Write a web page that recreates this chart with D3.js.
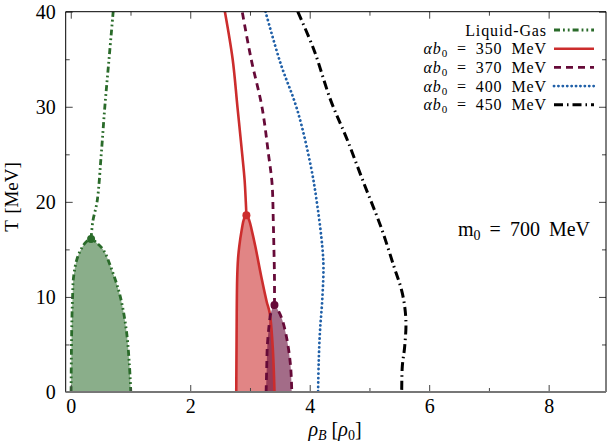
<!DOCTYPE html>
<html>
<head>
<meta charset="utf-8">
<script src="https://cdn.jsdelivr.net/npm/d3@7"></script>
<style>
  body { margin: 0; background: #fff; }
  svg text { font-family: "Liberation Serif", "DejaVu Serif", serif; fill: #000; }
</style>
</head>
<body>
<div id="chart"></div>
<script>
// Phase diagram: T vs rho_B, coexistence regions + transition lines

// [rho_B, T]
const gasLeft = [[0.005, 0], [0.01, 4], [0.02, 8], [0.03, 10], [0.045, 12], [0.1, 13.9], [0.18, 15.1], [0.26, 15.8], [0.34, 16.1]];
const gasRight = [[0.34, 16.1], [0.45, 15.6], [0.55, 14.9], [0.69, 12.8], [0.83, 10], [0.93, 6.5], [0.98, 3], [1.005, 0]];
const gasLine = [[0.34, 16.1], [0.37, 18], [0.44, 20], [0.51, 25], [0.57, 30], [0.64, 35], [0.71, 40]];

const b350Left = [[2.77, 0], [2.775, 5], [2.785, 11.8], [2.8, 14], [2.82, 15.3], [2.86, 17], [2.9, 18.2], [2.94, 18.6]];
const b350Right = [[2.94, 18.6], [2.99, 18], [3.03, 17], [3.09, 15.3], [3.2, 11.8], [3.28, 9.5], [3.33, 8.3], [3.38, 4.8], [3.41, 0]];
const b350Line = [[2.94, 18.6], [2.93, 20], [2.91, 22.3], [2.87, 25], [2.79, 30], [2.71, 35], [2.58, 40]];

const b370Left = [[3.27, 0], [3.28, 2.5], [3.29, 4.8], [3.32, 7], [3.35, 8.3], [3.41, 9.15]];
const b370Right = [[3.41, 9.15], [3.47, 8.6], [3.54, 7.6], [3.62, 5.5], [3.68, 2.7], [3.7, 0]];
const b370Line = [[3.41, 9.15], [3.41, 12], [3.4, 15.3], [3.39, 18], [3.37, 21.9], [3.31, 25], [3.2, 30], [3.02, 35], [2.87, 40]];

const b400Line = [[3.26, 40], [3.51, 34.6], [3.79, 29.7], [4.02, 23.7], [4.13, 19.5], [4.21, 15.3], [4.23, 13.2], [4.21, 9.7], [4.17, 6.2], [4.15, 3], [4.14, 0]];
const b450Line = [[3.8, 40], [4.07, 36], [4.35, 30.7], [4.63, 26.5], [4.91, 21.9], [5.19, 17.4], [5.41, 13.2], [5.55, 10.4], [5.61, 7.6], [5.59, 4.8], [5.55, 2.7], [5.54, 0]];

const xTicks = [0, 2, 4, 6, 8];
const xMinor = [1, 3, 5, 7];
const yTicks = [0, 10, 20, 30, 40];
const yMinor = [5, 15, 25, 35];

const legendLabels = ["350", "370", "400", "450"];

(() => {
    const W = 611, H = 444;
    const L = 65.7, R = 606, T = 11.7, B = 392;

    const svg = d3.select("#chart").append("svg").attr("width", W).attr("height", H);

    const x = d3.scaleLinear().domain([-0.085, 8.96]).range([L, R]);
    const y = d3.scaleLinear().domain([0, 40]).range([B, T]);

    const styles = {
        gas: { color: "#2a6b2a", fill: "#2a6b2a", dash: "6,3,1.8,3,1.8,3", w: 2.8 },
        b350: { color: "#cc2d2d", fill: "#cc2d2d", dash: null, w: 2.6 },
        b370: { color: "#660a38", fill: "#660a38", dash: "7,5", w: 2.8 },
        b400: { color: "#2060a8", dash: "0.1,4.3", w: 2.8 },
        b450: { color: "#000", dash: "9,4,1.5,4", w: 3 }
    };

    const line = d3.line().x(d => x(d[0])).y(d => y(d[1])).curve(d3.curveCatmullRom.alpha(0.5));

    svg.append("clipPath").attr("id", "plot").append("rect")
        .attr("x", L).attr("y", T).attr("width", R - L).attr("height", B - T);
    const g = svg.append("g").attr("clip-path", "url(#plot)");

    const region = (left, right, st, alpha) => {
        const pts = left.concat(right.slice(1));
        g.append("path").attr("d", line(pts) + "Z")
            .attr("fill", st.fill).attr("fill-opacity", alpha).attr("stroke", "none");
    };
    region(gasLeft, gasRight, styles.gas, 0.55);
    region(b350Left, b350Right, styles.b350, 0.58);
    region(b370Left, b370Right, styles.b370, 0.6);

    const stroke = (pts, st) => {
        const p = g.append("path").attr("d", line(pts)).attr("fill", "none")
            .attr("stroke", st.color).attr("stroke-width", st.w)
            .attr("stroke-linecap", st === styles.b400 ? "round" : "butt");
        if (st.dash) p.attr("stroke-dasharray", st.dash);
    };
    stroke(gasLeft.concat(gasRight.slice(1)), styles.gas);
    stroke(gasLine, styles.gas);
    stroke(b350Left.concat(b350Right.slice(1)), styles.b350);
    stroke(b350Line, styles.b350);
    stroke(b370Left.concat(b370Right.slice(1)), styles.b370);
    stroke(b370Line, styles.b370);
    stroke(b400Line, styles.b400);
    stroke(b450Line, styles.b450);

    // critical points
    [[gasLine[0], styles.gas], [b350Line[0], styles.b350], [b370Line[0], styles.b370]].forEach(([p, st]) => {
        g.append("circle").attr("cx", x(p[0])).attr("cy", y(p[1])).attr("r", 4).attr("fill", st.color);
    });

    // axes (ticks inside, mirrored on top / right)
    const axes = svg.append("g");
    const styleAxis = sel => {
        sel.attr("font-family", null);
        sel.select(".domain").remove();
        sel.selectAll(".tick line").attr("stroke", "#444").attr("stroke-width", 1);
        sel.selectAll("text").attr("font-size", 20);
    };
    axes.append("g").attr("transform", `translate(0,${B})`)
        .call(d3.axisBottom(x).tickValues(xTicks).tickSize(-7).tickPadding(7)).call(styleAxis);
    axes.append("g").attr("transform", `translate(0,${B})`)
        .call(d3.axisBottom(x).tickValues(xMinor).tickSize(-4).tickFormat("")).call(styleAxis);
    axes.append("g").attr("transform", `translate(0,${T})`)
        .call(d3.axisTop(x).tickValues(xTicks).tickSize(-7).tickFormat("")).call(styleAxis);
    axes.append("g").attr("transform", `translate(0,${T})`)
        .call(d3.axisTop(x).tickValues(xMinor).tickSize(-4).tickFormat("")).call(styleAxis);
    axes.append("g").attr("transform", `translate(${L},0)`)
        .call(d3.axisLeft(y).tickValues(yTicks).tickSize(-7).tickPadding(10)).call(styleAxis);
    axes.append("g").attr("transform", `translate(${L},0)`)
        .call(d3.axisLeft(y).tickValues(yMinor).tickSize(-4).tickFormat("")).call(styleAxis);
    axes.append("g").attr("transform", `translate(${R},0)`)
        .call(d3.axisRight(y).tickValues(yTicks).tickSize(-7).tickFormat("")).call(styleAxis);
    axes.append("g").attr("transform", `translate(${R},0)`)
        .call(d3.axisRight(y).tickValues(yMinor).tickSize(-4).tickFormat("")).call(styleAxis);

    // frame
    svg.append("path").attr("d", `M${L},${B}V${T}H${R}V${B}`).attr("fill", "none").attr("stroke", "#000").attr("stroke-width", 1);
    svg.append("line").attr("x1", L).attr("x2", R).attr("y1", B).attr("y2", B).attr("stroke", "#777").attr("stroke-width", 2);

    // axis titles
    svg.append("text").attr("transform", "translate(18,197) rotate(-90)").attr("text-anchor", "middle")
        .attr("font-size", 19).attr("word-spacing", 2).text("T [MeV]");
    const xl = svg.append("text").attr("x", 335).attr("y", 436).attr("text-anchor", "middle").attr("font-size", 20);
    xl.append("tspan").attr("font-style", "italic").text("ρ");
    xl.append("tspan").attr("font-style", "italic").attr("font-size", 14).attr("dy", 4).text("B");
    xl.append("tspan").attr("dy", -4).text("  [");
    xl.append("tspan").attr("font-style", "italic").text("ρ");
    xl.append("tspan").attr("font-size", 14).attr("dy", 4).text("0");
    xl.append("tspan").attr("dy", -4).text("]");

    // m0 annotation
    const m0 = svg.append("text").attr("x", 590).attr("y", 236).attr("text-anchor", "end")
        .attr("font-size", 20).attr("word-spacing", 4);
    m0.append("tspan").text("m");
    m0.append("tspan").attr("font-size", 14).attr("dy", 4).text("0");
    m0.append("tspan").attr("dy", -4).text(" = 700 MeV");

    // legend
    const leg = svg.append("g");
    const keys = ["b350", "b370", "b400", "b450"];
    const rows = [{ key: "gas", label: null }].concat(legendLabels.map((v, i) => ({ key: keys[i], label: v })));
    rows.forEach((r, i) => {
        const cy = 30 + i * 18.7;
        const st = styles[r.key];
        const t = leg.append("text").attr("x", 547).attr("y", cy + 5.5).attr("text-anchor", "end")
            .attr("font-size", 16).attr("letter-spacing", 0.9).attr("word-spacing", 4);
        if (!r.label) t.text("Liquid-Gas");
        else {
            t.append("tspan").attr("font-style", "italic").text("αb");
            t.append("tspan").attr("font-size", 11).attr("dy", 3).text("0");
            t.append("tspan").attr("dy", -3).text(` = ${r.label} MeV`);
        }
        const l = leg.append("line").attr("x1", 554).attr("x2", 594).attr("y1", cy).attr("y2", cy)
            .attr("stroke", st.color).attr("stroke-width", st.w)
            .attr("stroke-linecap", r.key === "b400" ? "round" : "butt");
        if (st.dash) l.attr("stroke-dasharray", st.dash);
    });
})();
</script>
</body>
</html>
